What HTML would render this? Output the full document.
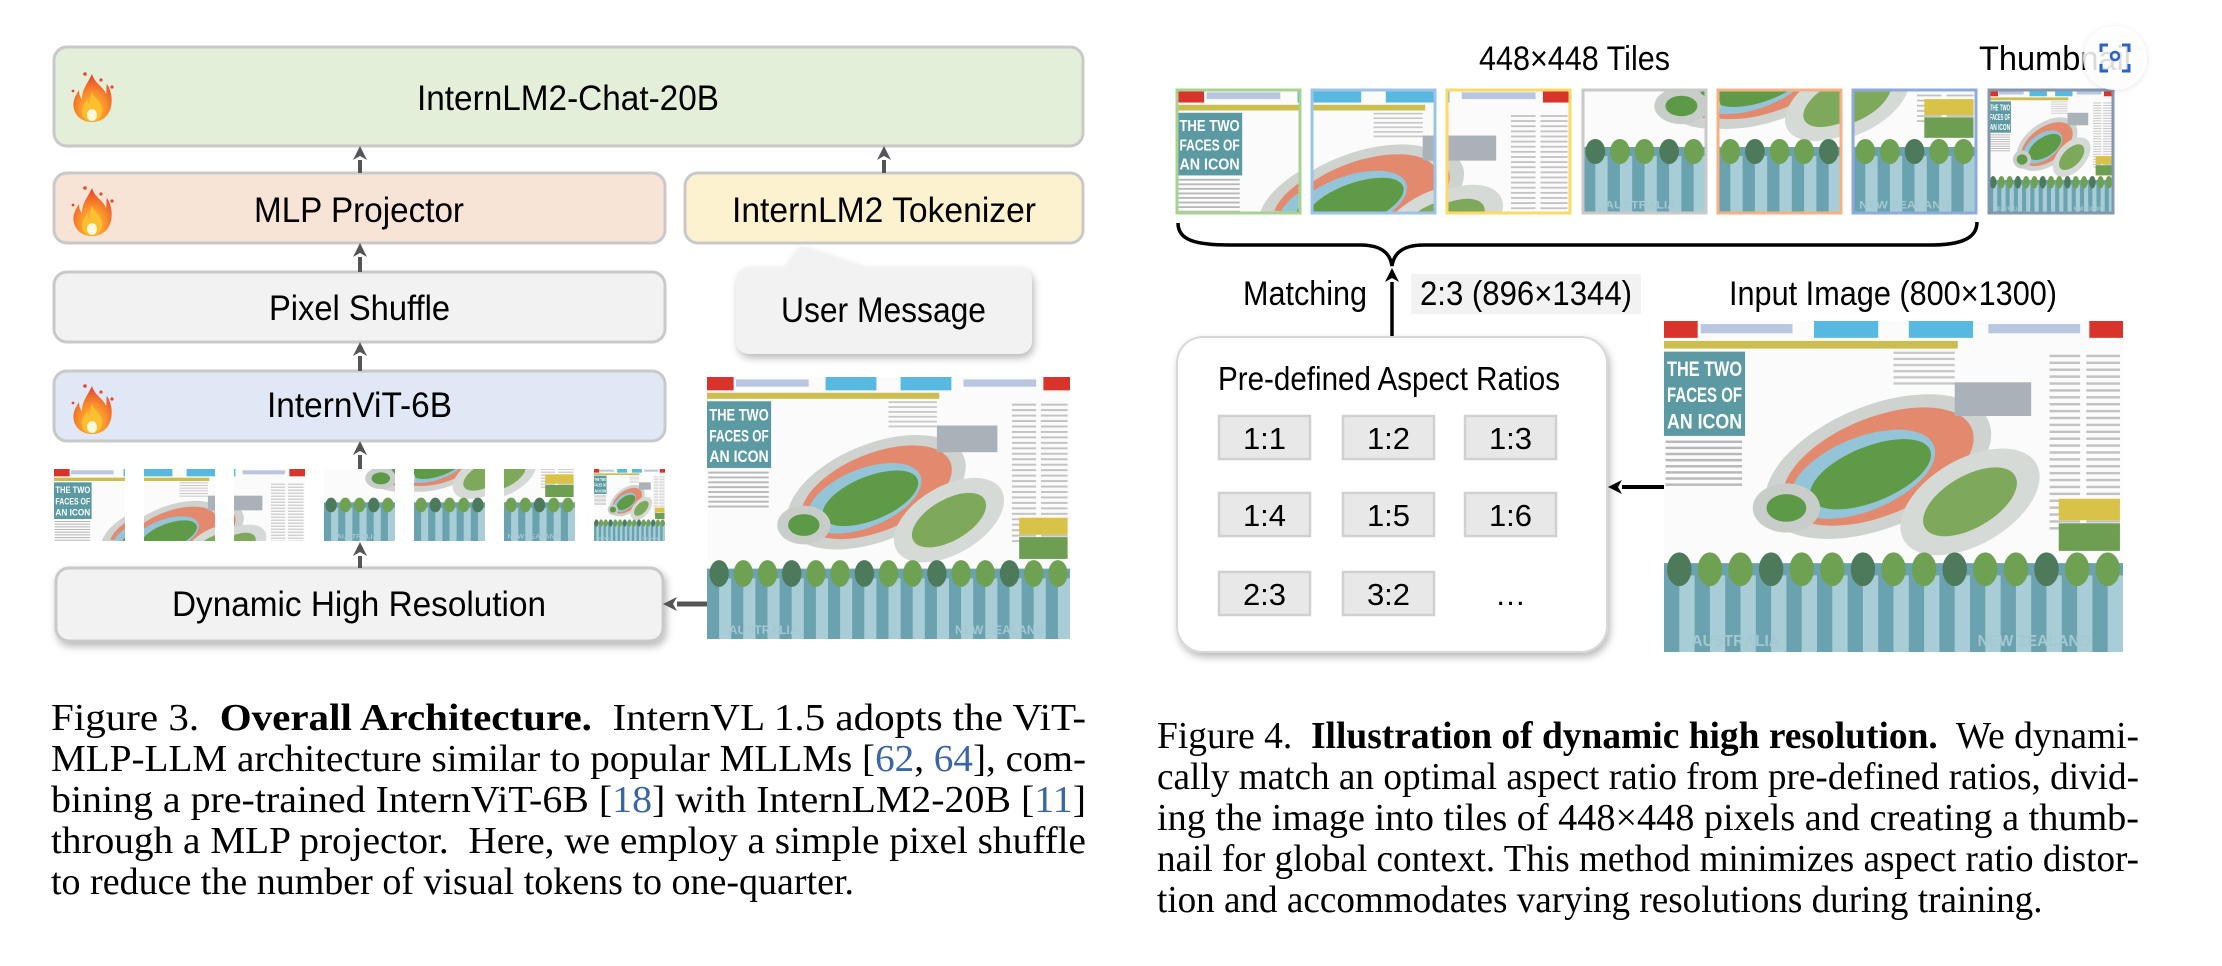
<!DOCTYPE html>
<html><head><meta charset="utf-8">
<style>
html,body{margin:0;padding:0;background:#fff;}
#wrap{position:relative;width:2222px;height:966px;overflow:hidden;background:#fff;}
svg text{font-family:"Liberation Sans",sans-serif;}
.cap{position:absolute;font-family:"Liberation Serif",serif;font-size:38px;line-height:41px;color:#000;}
.cap div{white-space:nowrap;height:41px;}
.cap div span.ln{display:inline-block;transform-origin:0 0;}
.ref{color:#3a66a8;}
</style></head><body>
<div id="wrap">
<svg id="fig" width="2222" height="966" viewBox="0 0 2222 966" xmlns="http://www.w3.org/2000/svg">
<defs>
  <filter id="sh" x="-10%" y="-10%" width="130%" height="140%"><feDropShadow dx="2" dy="4" stdDeviation="4" flood-color="#000" flood-opacity="0.28"/></filter>
  <filter id="sh2" x="-20%" y="-20%" width="140%" height="140%"><feDropShadow dx="0" dy="1" stdDeviation="3" flood-color="#000" flood-opacity="0.12"/></filter>
  <radialGradient id="fl" cx="50%" cy="75%" r="70%"><stop offset="0" stop-color="#ffcf3a"/><stop offset="0.55" stop-color="#f98b2a"/><stop offset="1" stop-color="#e8472d"/></radialGradient>
</defs>
<g id="left"></g>
<g id="right"></g>
</svg>

<div class="cap" id="cap3" data-w="1035" style="left:51px;top:698px;width:1035px;">
<div><span class="ln">Figure 3.&nbsp; <b>Overall Architecture.</b>&nbsp; InternVL 1.5 adopts the ViT-</span></div>
<div><span class="ln">MLP-LLM architecture similar to popular MLLMs [<span class="ref">62</span>, <span class="ref">64</span>], com-</span></div>
<div><span class="ln">bining a pre-trained InternViT-6B [<span class="ref">18</span>] with InternLM2-20B [<span class="ref">11</span>]</span></div>
<div><span class="ln">through a MLP projector.&nbsp; Here, we employ a simple pixel shuffle</span></div>
<div class="last"><span class="ln">to reduce the number of visual tokens to one-quarter.</span></div>
</div>
<div class="cap" id="cap4" data-w="982" style="left:1157px;top:716px;width:982px;">
<div><span class="ln">Figure 4.&nbsp; <b>Illustration of dynamic high resolution.</b>&nbsp; We dynami-</span></div>
<div><span class="ln">cally match an optimal aspect ratio from pre-defined ratios, divid-</span></div>
<div><span class="ln">ing the image into tiles of 448×448 pixels and creating a thumb-</span></div>
<div><span class="ln">nail for global context. This method minimizes aspect ratio distor-</span></div>
<div class="last"><span class="ln">tion and accommodates varying resolutions during training.</span></div>
</div>
</div>

<script>
const ratioLabels = ["1:1","1:2","1:3","1:4","1:5","1:6","2:3","3:2","…"];
const tileColors = ["#a8d38f","#9dc3e6","#ffd966","#c9c9c9","#f4b183","#8faadc"];
const thumbColor = "#8497b0";

const NS = "http://www.w3.org/2000/svg";
function el(tag, attrs, parent, txt){
  const e = document.createElementNS(NS, tag);
  for (const k in attrs) e.setAttribute(k, attrs[k]);
  if (txt !== undefined) e.textContent = txt;
  if (parent) parent.appendChild(e);
  return e;
}
const L = document.getElementById('left');
const R = document.getElementById('right');

function paper(parent, x, y, w, h, vx, vy, vw, vh){
  const s = el('svg', {x:x, y:y, width:w, height:h, viewBox:vx+' '+vy+' '+vw+' '+vh, preserveAspectRatio:'none'}, parent);
  
  
  el('rect',{x:0,y:0,width:300,height:216,fill:'#fbfbfb'},s);
  el('rect',{x:0,y:0,width:22,height:11,fill:'#d9342b'},s);
  el('rect',{x:278,y:0,width:22,height:11,fill:'#d9342b'},s);
  el('rect',{x:24,y:2,width:60,height:6,fill:'#b9c6e0'},s);
  el('rect',{x:98,y:0,width:42,height:11,fill:'#57b9e0'},s);
  el('rect',{x:160,y:0,width:42,height:11,fill:'#57b9e0'},s);
  el('rect',{x:212,y:2,width:60,height:6,fill:'#b9c6e0'},s);
  el('rect',{x:0,y:13,width:192,height:5,fill:'#cbbd4e'},s);
  el('rect',{x:0,y:20,width:53,height:55,fill:'#5b9aa2'},s);
  el('text',{x:2,y:36,'font-size':14,'font-weight':'bold',fill:'#fff',textLength:49,lengthAdjust:'spacingAndGlyphs'},s,'THE TWO');
  el('text',{x:2,y:53,'font-size':14,'font-weight':'bold',fill:'#fff',textLength:49,lengthAdjust:'spacingAndGlyphs'},s,'FACES OF');
  el('text',{x:2,y:70,'font-size':14,'font-weight':'bold',fill:'#fff',textLength:49,lengthAdjust:'spacingAndGlyphs'},s,'AN ICON');
  for(let i=0;i<8;i++) el('rect',{x:1,y:78+i*4,width:50,height:1.6,fill:'#b8b8b8'},s);
  for(let i=0;i<26;i++){ el('rect',{x:252,y:22+i*4.5,width:20,height:1.6,fill:'#c2c2c2'},s); el('rect',{x:276,y:22+i*4.5,width:22,height:1.6,fill:'#c2c2c2'},s);}
  for(let i=0;i<6;i++) el('rect',{x:150,y:20+i*4,width:40,height:1.5,fill:'#c8c8c8'},s);
  el('ellipse',{cx:140,cy:95,rx:78,ry:40,fill:'#cfd3cf',transform:'rotate(-22 140 95)'},s);
  el('ellipse',{cx:140,cy:95,rx:66,ry:32,fill:'#e38a6e',transform:'rotate(-22 140 95)'},s);
  el('ellipse',{cx:130,cy:100,rx:50,ry:24,fill:'#93c4d8',transform:'rotate(-22 130 100)'},s);
  el('ellipse',{cx:135,cy:100,rx:42,ry:18,fill:'#5f9a47',transform:'rotate(-22 135 100)'},s);
  el('ellipse',{cx:200,cy:118,rx:50,ry:28,fill:'#d5dad6',transform:'rotate(-30 200 118)'},s);
  el('ellipse',{cx:200,cy:118,rx:34,ry:17,fill:'#7ea85a',transform:'rotate(-30 200 118)'},s);
  el('ellipse',{cx:80,cy:122,rx:22,ry:16,fill:'#c9cdc9'},s);
  el('ellipse',{cx:80,cy:122,rx:13,ry:9,fill:'#5c9a48'},s);
  el('rect',{x:190,y:40,width:50,height:22,fill:'#a8b2b8'},s);
  el('rect',{x:258,y:132,width:40,height:18,fill:'#6e9e52'},s);
  el('rect',{x:258,y:116,width:40,height:14,fill:'#d8c248'},s);
  el('rect',{x:0,y:158,width:300,height:58,fill:'#6aa2b0'},s);
  for(let i=0;i<15;i++){
    el('rect',{x:i*20+10,y:166,width:10,height:50,fill:'#a9cdd6'},s);
    el('ellipse',{cx:i*20+10,cy:162,rx:8,ry:11,fill:(i%3==0?'#4d7a5a':'#6fa152')},s);
  }
  el('text',{x:18,y:212,'font-size':10,fill:'#a5c9d2','font-weight':'bold'},s,'AUSTRALIA');
  el('text',{x:205,y:212,'font-size':10,fill:'#a5c9d2','font-weight':'bold'},s,'NEW ZEALAND');
  return s;
}

function flame(parent, x, y){
  const g = el('g',{transform:'translate('+x+','+y+')'},parent);
  
  
  el('path',{d:'M19 2 C22 12 30 14 33 22 C34 18 33 14 34 12 C39 20 40 30 37 38 C34 46 27 50 19 50 C10 50 3 45 1 37 C-1 29 3 23 6 18 C6 22 7 25 9 27 C9 17 15 11 19 2 Z',fill:'url(#fl)'},g);
  el('path',{d:'M19 20 C22 28 30 30 29 40 C28 46 24 49 19 49 C13 49 9 46 9 40 C9 34 13 31 14 27 C15 31 16 33 17 34 C17 28 17 24 19 20 Z',fill:'#fbc02d'},g);
  el('ellipse',{cx:19,cy:43,rx:5,ry:6,fill:'#fff8dc'},g);
  el('circle',{cx:12,cy:2,r:1.8,fill:'#e8472d'},g);
  el('circle',{cx:28,cy:8,r:1.6,fill:'#e8472d'},g);
  el('circle',{cx:0,cy:19,r:1.4,fill:'#e8472d'},g);
  el('circle',{cx:39,cy:15,r:1.6,fill:'#e8472d'},g);
}

function box(parent, name, x, y, w, h, fill, label, tx, tl, by, fs, shadow){
  const g = el('g',{},parent);
  
  
  const r = el('rect',{x:x,y:y,width:w,height:h,rx:13,fill:fill,stroke:'#c9c9c9','stroke-width':3},g);
  if (shadow) r.setAttribute('filter','url(#sh)');
  if (label) el('text',{x:tx,y:by,'font-size':fs||35,fill:'#000',textLength:tl,lengthAdjust:'spacingAndGlyphs'},g,label);
  return g;
}
function arrow(parent, x1, y1, x2, y2, color, w){
  const g = el('g',{},parent);
  
  
  const dx=x2-x1, dy=y2-y1, len=Math.hypot(dx,dy), ux=dx/len, uy=dy/len;
  const hl=14, hw=7;
  const bx=x2-ux*hl, by=y2-uy*hl;
  el('line',{x1:x1,y1:y1,x2:bx,y2:by,stroke:color,'stroke-width':w},g);
  el('path',{d:`M${x2} ${y2} L${bx-uy*hw} ${by+ux*hw} L${bx+ux*4} ${by+uy*4} L${bx+uy*hw} ${by-ux*hw} Z`,fill:color},g);
}

// ---------- LEFT ----------
box(L,'internlm2-chat-20b-box',54,47,1029,99,'#e3efd9','InternLM2-Chat-20B',417,302,110);
box(L,'mlp-projector-box',54,173,611,70,'#f8e4d7','MLP Projector',254,210,222);
box(L,'internlm2-tokenizer-box',685,173,398,70,'#fdf2d0','InternLM2 Tokenizer',732,304,222);
box(L,'pixel-shuffle-box',54,272,611,70,'#f2f2f2','Pixel Shuffle',269,181,320);
box(L,'internvit-6b-box',54,371,611,70,'#dfe8f4','InternViT-6B',267,185,417);
const um = el('g',{filter:'url(#sh)'},L);


el('path',{d:'M751 267 L785 267 L800 246 L862 267 L1017 267 Q1032 267 1032 282 L1032 339 Q1032 354 1017 354 L751 354 Q736 354 736 339 L736 282 Q736 267 751 267 Z',fill:'#f2f2f2'},um);
el('text',{x:781,y:322,'font-size':35,fill:'#000',textLength:205,lengthAdjust:'spacingAndGlyphs'},L,'User Message');
box(L,'dynamic-high-resolution-box',56,568,607,73,'#f2f2f2','Dynamic High Resolution',172,374,616,35,true);
flame(L,73,72); flame(L,73,186); flame(L,73,384);
arrow(L,360,173,360,146,'#555',4);
arrow(L,884,173,884,146,'#555',4);
arrow(L,360,272,360,243,'#555',4);
arrow(L,360,371,360,342,'#555',4);
arrow(L,360,469,360,441,'#555',4);
arrow(L,360,568,360,542,'#555',4);
arrow(L,707,604,663,604,'#555',5);
for (let i=0;i<6;i++){
  const c=i%3, r=Math.floor(i/3);
  paper(L,54+90*i,469,71,72,c*100,r*108,100,108);
}
paper(L,594,469,71,72,0,0,300,216);
paper(L,707,377,363,262,0,0,300,216);

// ---------- RIGHT ----------
el('text',{x:1479,y:70,'font-size':34,fill:'#000',textLength:191,lengthAdjust:'spacingAndGlyphs'},R,'448×448 Tiles');
el('text',{x:1979,y:70,'font-size':34,fill:'#000',textLength:152,lengthAdjust:'spacingAndGlyphs'},R,'Thumbnail');
const tileX=[1177,1312,1447,1583,1718,1853];
for (let i=0;i<6;i++){
  const c=i%3, r=Math.floor(i/3);
  paper(R,tileX[i],90,123,123,c*100,r*108,100,108);
  const b=el('rect',{x:tileX[i],y:90,width:123,height:123,fill:'none',stroke:tileColors[i],'stroke-width':3},R);
  
  
}
paper(R,1989,90,124,123,0,0,300,216);
el('rect',{x:1989,y:90,width:124,height:123,fill:'none',stroke:thumbColor,'stroke-width':3},R);
const br = el('path',{d:'M1178 223 C1178 240 1195 245 1230 245 L1360 245 C1380 245 1390 252 1392 266 C1394 252 1404 245 1424 245 L1930 245 C1962 245 1977 238 1977 222',fill:'none',stroke:'#000','stroke-width':3.5},R);


arrow(R,1392,337,1392,268,'#000',3.5);
el('text',{x:1243,y:305,'font-size':34,fill:'#000',textLength:124,lengthAdjust:'spacingAndGlyphs'},R,'Matching');
const mb=el('rect',{x:1411,y:274,width:230,height:40,fill:'#f2f2f2'},R);


el('text',{x:1420,y:305,'font-size':34,fill:'#000',textLength:212,lengthAdjust:'spacingAndGlyphs'},R,'2:3 (896×1344)');
el('text',{x:1729,y:305,'font-size':34,fill:'#000',textLength:328,lengthAdjust:'spacingAndGlyphs'},R,'Input Image (800×1300)');
const pb=el('rect',{x:1177,y:337,width:430,height:315,rx:26,fill:'#fff',stroke:'#d8d8d8','stroke-width':2,filter:'url(#sh)'},R);


el('text',{x:1218,y:390,'font-size':33,fill:'#000',textLength:342,lengthAdjust:'spacingAndGlyphs'},R,'Pre-defined Aspect Ratios');
const colX=[1219,1343,1465], rowY=[416,493,572];
ratioLabels.forEach((lab,i)=>{
  const c=i%3, r=Math.floor(i/3);
  const g=el('g',{},R);
  
  
  if (lab!=='…') el('rect',{x:colX[c],y:rowY[r],width:91,height:43,fill:'#e8e8e8',stroke:'#d0d0d0','stroke-width':2.5},g);
  el('text',{x:colX[c]+45.5,y:rowY[r]+33,'font-size':31,'text-anchor':'middle',fill:'#000'},g,lab);
});
paper(R,1664,321,459,331,0,0,300,216);
arrow(R,1664,487,1608,487,'#000',4);
const ic=el('g',{},R);


el('circle',{cx:2115,cy:58,r:32,fill:'#fff','fill-opacity':0.85,filter:'url(#sh2)'},ic);
el('path',{d:'M2101 52 L2101 45 L2108 45 M2122 45 L2129 45 L2129 52 M2129 64 L2129 71 L2122 71 M2108 71 L2101 71 L2101 64',fill:'none',stroke:'#2a62c9','stroke-width':3},ic);
el('circle',{cx:2115,cy:56,r:4,fill:'none',stroke:'#2a62c9','stroke-width':2.5},ic);

// caption fitting: condense each line to the column width
['cap3','cap4'].forEach(id=>{
  const cap=document.getElementById(id);
  const W=+cap.getAttribute('data-w');
  const lines=[...cap.querySelectorAll('span.ln')];
  let minS=1;
  lines.forEach((sp,i)=>{
    const w=sp.getBoundingClientRect().width;
    const isLast=sp.parentNode.classList.contains('last');
    if(!isLast){ const s=W/w; sp.style.transform='scaleX('+s+')'; minS=Math.min(minS,s); }
  });
  lines.forEach(sp=>{ if(sp.parentNode.classList.contains('last')) sp.style.transform='scaleX('+Math.min(1,minS)+')'; });
});
</script>
</body></html>
